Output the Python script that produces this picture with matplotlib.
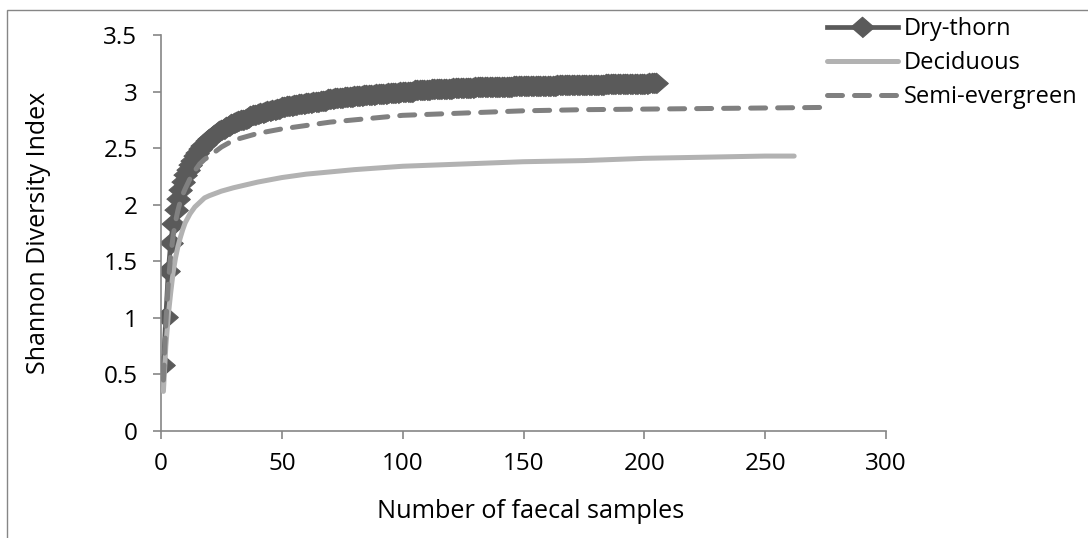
import matplotlib
matplotlib.use("Agg")
import matplotlib.pyplot as plt
from matplotlib.patches import Rectangle

plt.rcParams['font.family'] = ['Open Sans', 'DejaVu Sans']

# Shannon index per number of faecal samples, Dry-thorn (one value per sample)
dry_thorn_y = [
    0.58, 1.01, 1.41, 1.66, 1.83, 1.95, 2.05, 2.13, 2.20, 2.26,
    2.31, 2.35, 2.39, 2.43, 2.46, 2.49, 2.52, 2.54, 2.56, 2.58,
    2.60, 2.62, 2.63, 2.65, 2.66, 2.67, 2.69, 2.70, 2.71, 2.72,
    2.73, 2.74, 2.75, 2.75, 2.76, 2.77, 2.78, 2.79, 2.79, 2.80,
    2.81, 2.81, 2.82, 2.83, 2.83, 2.84, 2.84, 2.85, 2.85, 2.86,
    2.86, 2.87, 2.87, 2.87, 2.88, 2.88, 2.89, 2.89, 2.89, 2.90,
    2.90, 2.90, 2.91, 2.91, 2.91, 2.92, 2.92, 2.92, 2.93, 2.93,
    2.93, 2.94, 2.94, 2.94, 2.94, 2.95, 2.95, 2.95, 2.95, 2.96,
    2.96, 2.96, 2.96, 2.97, 2.97, 2.97, 2.97, 2.97, 2.98, 2.98,
    2.98, 2.98, 2.98, 2.99, 2.99, 2.99, 2.99, 2.99, 3.00, 3.00,
    3.00, 3.00, 3.00, 3.00, 3.01, 3.01, 3.01, 3.01, 3.01, 3.01,
    3.01, 3.02, 3.02, 3.02, 3.02, 3.02, 3.02, 3.02, 3.02, 3.02,
    3.03, 3.03, 3.03, 3.03, 3.03, 3.03, 3.03, 3.03, 3.03, 3.04,
    3.04, 3.04, 3.04, 3.04, 3.04, 3.04, 3.04, 3.04, 3.04, 3.04,
    3.04, 3.04, 3.04, 3.04, 3.04, 3.05, 3.05, 3.05, 3.05, 3.05,
    3.05, 3.05, 3.05, 3.05, 3.05, 3.05, 3.05, 3.05, 3.05, 3.05,
    3.05, 3.05, 3.05, 3.06, 3.06, 3.06, 3.06, 3.06, 3.06, 3.06,
    3.06, 3.06, 3.06, 3.06, 3.06, 3.06, 3.06, 3.06, 3.06, 3.06,
    3.06, 3.06, 3.06, 3.07, 3.07, 3.07, 3.07, 3.07, 3.07, 3.07,
    3.07, 3.07, 3.07, 3.07, 3.07, 3.07, 3.07, 3.07, 3.07, 3.07,
    3.07, 3.08, 3.08, 3.08, 3.08,
]
dry_thorn_x = list(range(1, len(dry_thorn_y) + 1))

# Deciduous and Semi-evergreen curves
deciduous_x = [1, 2, 3, 4, 5, 6, 7, 8, 9, 10, 12, 14, 16, 18, 20, 25, 30, 40, 50,
               60, 70, 80, 100, 125, 150, 175, 200, 225, 250, 262]
deciduous_y = [0.35, 0.75, 1.02, 1.22, 1.40, 1.53, 1.63, 1.71, 1.78, 1.84, 1.92, 1.98,
               2.02, 2.06, 2.08, 2.12, 2.15, 2.20, 2.24, 2.27, 2.29, 2.31, 2.34, 2.36,
               2.38, 2.39, 2.41, 2.42, 2.43, 2.43]

semi_x = [1, 2, 3, 4, 5, 6, 7, 8, 9, 10, 12, 14, 16, 18, 20, 25, 30, 35, 40, 45, 50,
          60, 70, 80, 100, 125, 150, 175, 200, 225, 250, 275]
semi_y = [0.45, 0.95, 1.30, 1.55, 1.72, 1.85, 1.95, 2.03, 2.09, 2.14, 2.23, 2.30, 2.36,
          2.40, 2.43, 2.51, 2.57, 2.60, 2.63, 2.65, 2.67, 2.70, 2.73, 2.75, 2.79, 2.81,
          2.83, 2.84, 2.845, 2.85, 2.855, 2.86]

x_ticks = [0, 50, 100, 150, 200, 250, 300]
y_ticks = [0, 0.5, 1, 1.5, 2, 2.5, 3, 3.5]
y_tick_labels = ["0", "0.5", "1", "1.5", "2", "2.5", "3", "3.5"]

W, H = 1088, 538
fig = plt.figure(figsize=(W / 100, H / 100), dpi=100)
ax = fig.add_axes([161 / W, 1 - 431 / H, (886 - 161) / W, (431 - 35) / H])

# chart area border (runs off the right and bottom edges)
fig.patches.append(Rectangle((7 / W, -0.1), 1.2, 1 - 10 / H + 0.1,
                             transform=fig.transFigure, fill=False,
                             edgecolor="#868686", linewidth=1.0))

diamond = [(-1.15, 0), (0, 1), (1.15, 0), (0, -1)]
ax.plot(dry_thorn_x, dry_thorn_y, color="#5a5a5a", linewidth=3.4,
        marker=diamond, markersize=17, markeredgewidth=0.8,
        markerfacecolor="#5a5a5a", markeredgecolor="#5a5a5a",
        label="Dry-thorn", zorder=2)
ax.plot(deciduous_x, deciduous_y, color="#b2b2b2", linewidth=3.6,
        solid_capstyle="round", label="Deciduous", zorder=3)
ax.plot(semi_x, semi_y, color="#808080", linewidth=3.6, dashes=(3, 2.4),
        dash_capstyle="round", label="Semi-evergreen", zorder=4)

ax.set_xlim(0, 300)
ax.set_ylim(0, 3.5)
ax.set_xticks(x_ticks)
ax.set_yticks(y_ticks)
ax.set_yticklabels(y_tick_labels)

for side in ("top", "right"):
    ax.spines[side].set_visible(False)
for side in ("left", "bottom"):
    ax.spines[side].set_color("#868686")
    ax.spines[side].set_linewidth(1.2)
ax.tick_params(axis="both", colors="#868686", length=6, width=1.2,
               labelcolor="black", labelsize=17.5)
ax.tick_params(axis="y", pad=11)
ax.tick_params(axis="x", pad=9)

ax.set_xlabel("Number of faecal samples", fontsize=18.2)
ax.set_ylabel("Shannon Diversity Index", fontsize=18)
ax.xaxis.set_label_coords(0.510, -0.172)
ax.yaxis.set_label_coords(-0.152, 0.5)

ax.legend(loc="upper left", bbox_to_anchor=(827 / W, 1 - 17 / H),
          bbox_transform=fig.transFigure, frameon=False, fontsize=17,
          handlelength=3.0, handletextpad=0.25, borderaxespad=0, borderpad=0,
          labelspacing=0.42)

fig.savefig("out.png", dpi=100)
